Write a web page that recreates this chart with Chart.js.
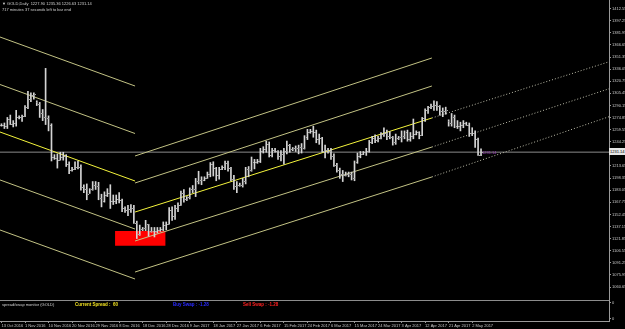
<!DOCTYPE html>
<html lang="en">
<head>
    <meta charset="UTF-8">
    <title>GOLD Daily</title>
    <script src="https://cdn.jsdelivr.net/npm/chart.js"></script>
    <style>
        body { margin: 0; background: #000; }
        #wrap { position: relative; width: 625px; height: 329px; background: #000; overflow: hidden; }
        #wrap .t { position: absolute; font-family: 'Liberation Sans', Arial, sans-serif; font-size: 4px; line-height: 5px; white-space: nowrap; color: #d0d0d0; }
    </style>
</head>
<body>
<div id="wrap">
    <canvas id="goldChart" width="625" height="329"></canvas>
    <div class="t" style="left:2px;top:1px">&#9660; GOLD,Daily&nbsp; 1227.90 1235.36 1226.63 1231.14</div>
    <div class="t" style="left:2px;top:7px">717 minutes 37 seconds left to bar end</div>
    <div class="t" style="left:2px;top:302px">spread/swap monitor (GOLD)</div>
    <div class="t" style="left:75px;top:302px;color:#f0e020;font-weight:bold;font-size:4.5px">Current Spread :&nbsp; 60</div>
    <div class="t" style="left:173px;top:302px;color:#2a2aff;font-weight:bold;font-size:4.5px">Buy Swap : -1.28</div>
    <div class="t" style="left:243px;top:302px;color:#ff2020;font-weight:bold;font-size:4.5px">Sell Swap : -1.28</div>
    <div class="t" style="left:482px;top:150px;color:#a040c0">1231.14</div>
    <div class="t" style="left:609px;top:148px;width:16px;height:7px;line-height:7px;background:#e6e6e6;color:#000;padding-left:1px">1231.14</div>
</div>

<script>
// bar index -> labelled dates on the time axis
const dateTickBars = [0, 8, 16, 24, 32, 40, 48, 56, 64, 72, 80, 88, 96, 104, 112, 120, 128, 136, 144, 152, 160];
const dateTicks = ['13 Oct 2016', '1 Nov 2016', '10 Nov 2016', '20 Nov 2016', '29 Nov 2016', '8 Dec 2016',
    '18 Dec 2016', '28 Dec 2016', '9 Jan 2017', '18 Jan 2017', '27 Jan 2017', '6 Feb 2017', '15 Feb 2017',
    '24 Feb 2017', '6 Mar 2017', '15 Mar 2017', '24 Mar 2017', '3 Apr 2017', '12 Apr 2017', '21 Apr 2017', '2 May 2017'];

const priceTicks = [1412.55, 1397.25, 1381.95, 1366.65, 1351.35, 1336.05, 1320.75, 1305.45, 1290.15, 1274.85,
    1259.55, 1244.25, 1228.95, 1213.65, 1198.35, 1183.05, 1167.75, 1152.45, 1137.15, 1121.85, 1106.55,
    1091.25, 1075.95, 1060.65];

// daily OHLC (with sunday bars)
const open = [1265,1266,1264,1273,1267,1268,1275,1275,1277,1288,1298,1303,1294,1292,1280,1275,1274,1266,1225,1224,
    1221,1225,1226,1216,1209,1210,1213,1212,1187,1184,1180,1184,1190,1188,1173,1170,1177,1180,1169,1170,
    1172,1171,1160,1158,1159,1160,1142,1128,1134,1135,1140,1132,1132,1131,1133,1134,1139,1141,1158,1151,
    1160,1164,1180,1172,1174,1184,1185,1195,1196,1196,1199,1204,1216,1211,1202,1210,1213,1217,1211,1197,
    1188,1190,1190,1195,1210,1208,1219,1219,1220,1232,1235,1241,1228,1234,1232,1226,1229,1232,1240,1235,
    1236,1236,1238,1236,1250,1257,1258,1256,1248,1249,1233,1234,1232,1226,1215,1209,1203,1202,1204,1204,
    1198,1219,1226,1229,1231,1233,1244,1249,1247,1249,1254,1255,1252,1250,1244,1249,1250,1252,1256,1248,
    1252,1254,1256,1253,1274,1285,1288,1290,1291,1290,1283,1283,1270,1268,1276,1264,1264,1266,1268,1266,
    1255,1255,1248,1227.90];
const high = [1267,1268,1275,1278,1271,1284,1277,1278,1290,1308,1306,1306,1296,1294,1285,1337,1277,1267,1228,1229,
    1231,1231,1228,1219,1212,1219,1220,1215,1190,1191,1185,1194,1194,1193,1178,1181,1185,1190,1177,1177,
    1180,1172,1162,1164,1165,1164,1144,1139,1136,1145,1140,1136,1136,1136,1136,1143,1143,1161,1162,1164,
    1167,1182,1184,1175,1186,1189,1198,1207,1200,1200,1206,1218,1219,1212,1212,1214,1220,1220,1212,1202,
    1194,1192,1198,1212,1213,1225,1222,1222,1236,1238,1245,1244,1236,1236,1233,1233,1236,1245,1241,1237,
    1239,1240,1242,1252,1260,1260,1264,1259,1254,1250,1240,1236,1236,1229,1217,1211,1208,1206,1206,1206,
    1220,1230,1232,1232,1236,1246,1251,1253,1251,1256,1262,1259,1257,1251,1254,1251,1258,1258,1259,1256,
    1273,1258,1257,1275,1286,1289,1292,1296,1295,1290,1287,1288,1272,1280,1278,1271,1269,1271,1269,1268,
    1262,1258,1249,1235.36];
const low = [1264,1261,1261,1266,1263,1264,1273,1270,1276,1286,1295,1298,1290,1275,1271,1266,1258,1220,1222,1211,
    1221,1221,1213,1204,1207,1209,1210,1183,1180,1171,1179,1183,1184,1171,1162,1168,1175,1160,1165,1166,
    1167,1156,1155,1151,1155,1141,1122,1126,1132,1132,1125,1130,1124,1129,1131,1132,1133,1140,1145,1146,
    1156,1164,1168,1170,1172,1180,1175,1191,1190,1195,1198,1200,1201,1195,1197,1209,1209,1207,1195,1184,
    1180,1188,1187,1191,1200,1207,1210,1217,1218,1230,1231,1225,1225,1231,1222,1220,1216,1229,1231,1233,
    1232,1229,1230,1235,1247,1255,1250,1243,1241,1231,1224,1230,1222,1213,1206,1198,1194,1201,1200,1196,
    1195,1217,1224,1228,1227,1231,1242,1243,1244,1248,1251,1247,1248,1240,1241,1247,1244,1248,1245,1245,
    1248,1253,1248,1252,1270,1280,1286,1284,1284,1278,1276,1279,1264,1264,1262,1261,1258,1262,1265,1251,
    1252,1237,1227,1226.63];
const close = [1266,1264,1273,1267,1268,1275,1275,1277,1288,1298,1303,1304,1292,1280,1275,1274,1266,1225,1224,1221,
    1225,1226,1216,1209,1210,1213,1212,1187,1184,1178,1184,1190,1188,1173,1170,1177,1180,1169,1170,1172,
    1171,1160,1158,1159,1160,1142,1128,1134,1135,1140,1132,1132,1131,1133,1134,1139,1141,1158,1151,1160,
    1164,1180,1172,1174,1184,1185,1195,1196,1196,1199,1204,1216,1211,1202,1210,1213,1217,1211,1197,1188,
    1190,1190,1195,1210,1208,1219,1219,1220,1232,1235,1241,1228,1234,1232,1226,1229,1232,1240,1235,1236,
    1236,1238,1236,1250,1257,1258,1256,1248,1249,1233,1234,1232,1226,1215,1209,1203,1202,1204,1204,1198,
    1219,1226,1229,1231,1233,1244,1249,1247,1249,1254,1255,1252,1250,1244,1249,1250,1252,1256,1248,1252,
    1254,1256,1253,1274,1285,1288,1290,1291,1290,1283,1283,1285,1268,1276,1264,1264,1266,1268,1266,1255,
    1255,1248,1228,1231.14];

const lastPrice = 1231.14;

// falling channel: start / end bar and the price of each line at both ends
const fallBars = [-0.5, 45.4];
const fallLines = [[1376.6, 1314.7], [1316.6, 1254.7], [1256.6, 1194.7], [1196.0, 1134.0], [1132.8, 1070.9]];
// rising channel, solid part then dotted ray
const riseBars = [45.4, 146.3];
const riseLines = [[1226.3, 1350.1], [1192.2, 1314.7], [1155.5, 1274.3], [1118.9, 1237.6], [1079.7, 1199.8]];
const rayBars = [146.3, 206.5];
const rayLines = [[1274.3, 1345.3], [1237.6, 1311.2], [1199.8, 1275.9]];

// red box around the december low
const boxBars = [38.6, 55.8];
const boxPrices = [1131.5, 1113.0];

const khaki = '#c2c284';
const brightYellow = '#f4f43c';

function seg(xs, ys) {
    return [{x: xs[0], y: ys[0]}, {x: xs[1], y: ys[1]}];
}

const datasets = [];

datasets.push({
    type: 'bar',
    data: high.map((h, i) => ({x: i, y: [low[i], h]})),
    backgroundColor: '#d4d4d4',
    barThickness: 1,
    grouped: false,
    order: 0
});

fallLines.forEach((p, i) => datasets.push({
    type: 'line', data: seg(fallBars, p),
    borderColor: i === 2 ? brightYellow : khaki, borderWidth: 1,
    pointRadius: 0, order: 5
}));
riseLines.forEach((p, i) => datasets.push({
    type: 'line', data: seg(riseBars, p),
    borderColor: i === 2 ? brightYellow : khaki, borderWidth: 1,
    pointRadius: 0, order: 5
}));
rayLines.forEach(p => datasets.push({
    type: 'line', data: seg(rayBars, p),
    borderColor: '#bdbdaa', borderWidth: 1, borderDash: [1, 2],
    pointRadius: 0, order: 5
}));

// current price line
datasets.push({
    type: 'line', data: seg([-0.5, 206.5], [lastPrice, lastPrice]),
    borderColor: '#8c8c8c', borderWidth: 1, pointRadius: 0, order: 6
});

// red box: top edge filled down to bottom edge
const boxIndex = datasets.length;
datasets.push({
    type: 'line', data: seg(boxBars, [boxPrices[0], boxPrices[0]]),
    borderWidth: 0, pointRadius: 0, backgroundColor: '#ff0000',
    fill: boxIndex + 1, order: 10
});
datasets.push({
    type: 'line', data: seg(boxBars, [boxPrices[1], boxPrices[1]]),
    borderWidth: 0, pointRadius: 0, fill: false, order: 10
});

// separator between main window and indicator window
datasets.push({
    type: 'line', yAxisID: 'y2', data: seg([-0.5, 206.5], [1, 1]),
    borderColor: '#8c8c8c', borderWidth: 2, pointRadius: 0, order: 6
});

// open / close ticks on each bar
const ohlcTicks = {
    id: 'ohlcTicks',
    afterDatasetsDraw(chart) {
        const xs = chart.scales.x, ys = chart.scales.y;
        const ctx = chart.ctx;
        ctx.save();
        ctx.strokeStyle = '#a8a8a8';
        ctx.lineWidth = 1;
        ctx.beginPath();
        for (let i = 0; i < open.length; i++) {
            const x = Math.round(xs.getPixelForValue(i));
            const yo = Math.round(ys.getPixelForValue(open[i])) + 0.5;
            const yc = Math.round(ys.getPixelForValue(close[i])) + 0.5;
            ctx.moveTo(x - 1, yo); ctx.lineTo(x, yo);
            ctx.moveTo(x + 1, yc); ctx.lineTo(x + 2, yc);
        }
        ctx.stroke();
        ctx.restore();
    }
};

const axisFont = {family: 'Liberation Sans', size: 4};

new Chart(document.getElementById('goldChart'), {
    type: 'bar',
    data: {datasets: datasets},
    plugins: [ohlcTicks],
    options: {
        responsive: false,
        devicePixelRatio: 1,
        animation: false,
        events: [],
        layout: {padding: 0},
        plugins: {legend: {display: false}, tooltip: {enabled: false}},
        scales: {
            x: {
                type: 'linear', position: 'bottom', min: -0.5, max: 206.5, offset: false,
                grid: {drawOnChartArea: false, offset: false, tickLength: 2, color: '#9a9a9a'},
                border: {color: '#9a9a9a'},
                ticks: {
                    autoSkip: false, maxRotation: 0, align: 'start', padding: 0,
                    color: '#c8c8c8', font: axisFont,
                    callback: (v, i) => dateTicks[i]
                },
                afterBuildTicks: s => { s.ticks = dateTickBars.map(v => ({value: v})); },
                afterFit: s => { s.height = 8; s.paddingLeft = 0; s.paddingRight = 0; }
            },
            y: {
                type: 'linear', position: 'right', stack: 'win', stackWeight: 300,
                min: 1044.35, max: 1423.37,
                grid: {drawOnChartArea: false, tickLength: 2, color: '#9a9a9a'},
                border: {color: '#9a9a9a'},
                ticks: {autoSkip: false, padding: 1, color: '#c8c8c8', font: axisFont, callback: v => v.toFixed(2)},
                afterBuildTicks: s => { s.ticks = priceTicks.map(v => ({value: v})); },
                afterFit: s => { s.width = 16; s.paddingTop = 0; s.paddingBottom = 0; }
            },
            y2: {
                type: 'linear', position: 'right', stack: 'win', stackWeight: 21,
                min: 0, max: 1,
                grid: {drawOnChartArea: false, tickLength: 2, color: '#9a9a9a'},
                border: {color: '#9a9a9a'},
                ticks: {autoSkip: false, padding: 1, color: '#c8c8c8', font: axisFont, callback: () => '0'},
                afterBuildTicks: s => { s.ticks = [{value: 0.12}, {value: 0.88}]; },
                afterFit: s => { s.width = 16; s.paddingTop = 0; s.paddingBottom = 0; }
            }
        }
    }
});
</script>
</body>
</html>
